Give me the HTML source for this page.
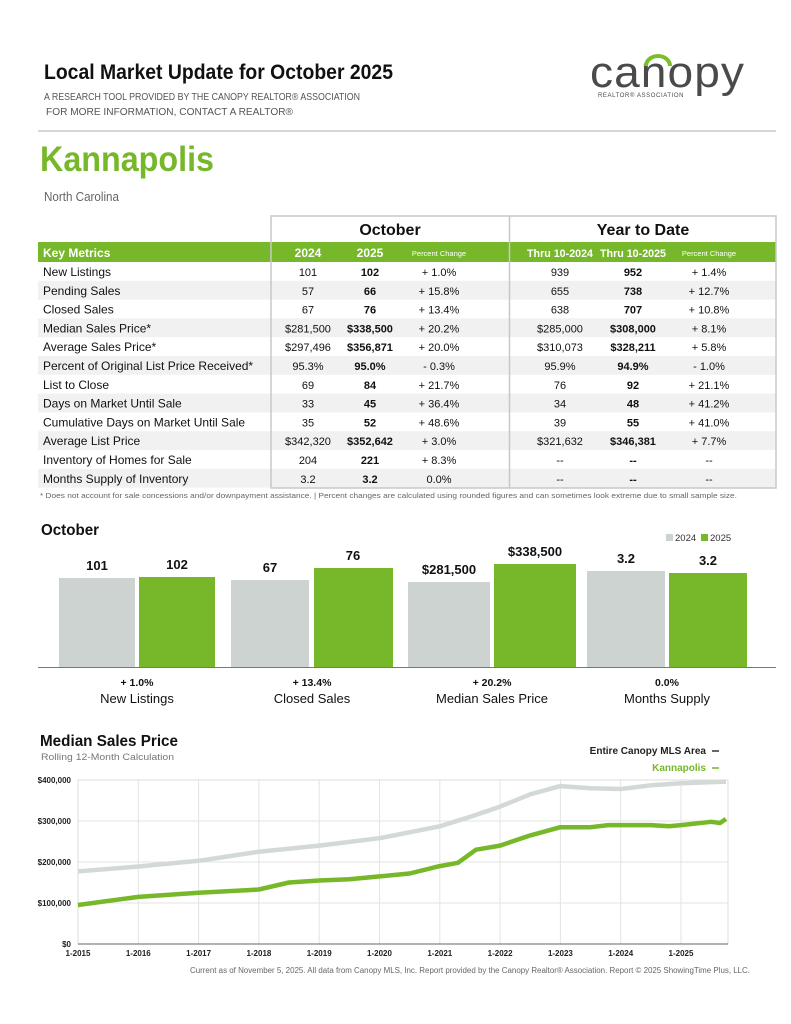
<!DOCTYPE html>
<html><head><meta charset="utf-8"><style>
html,body{margin:0;padding:0;background:#fff;}
svg{display:block;font-family:"Liberation Sans",sans-serif;}
</style></head><body>
<svg width="791" height="1024" viewBox="0 0 791 1024" xmlns="http://www.w3.org/2000/svg">
<!-- Header -->
<text x="44" y="79" font-size="21" font-weight="bold" fill="#111" textLength="349" lengthAdjust="spacingAndGlyphs">Local Market Update for October 2025</text>
<text x="44" y="100" font-size="10.5" fill="#555" textLength="316" lengthAdjust="spacingAndGlyphs">A RESEARCH TOOL PROVIDED BY THE CANOPY REALTOR® ASSOCIATION</text>
<text x="46" y="115" font-size="10.5" fill="#555" textLength="247" lengthAdjust="spacingAndGlyphs">FOR MORE INFORMATION, CONTACT A REALTOR®</text>
<!-- logo -->
<text x="590" y="87" font-size="44" fill="#4a4a4a" letter-spacing="1" textLength="155" lengthAdjust="spacingAndGlyphs">canopy</text>
<path d="M646 66 a12 10 0 0 1 24 0" fill="none" stroke="#7cbd2a" stroke-width="4"/>
<text x="598" y="97" font-size="6" fill="#4a4a4a" letter-spacing="0.6">REALTOR® ASSOCIATION</text>
<line x1="38" y1="131" x2="776" y2="131" stroke="#c8c8c8" stroke-width="1.5"/>
<text x="40" y="171" font-size="35" font-weight="bold" fill="#76b82a" textLength="174" lengthAdjust="spacingAndGlyphs">Kannapolis</text>
<text x="44" y="201" font-size="12.5" fill="#666" textLength="75" lengthAdjust="spacingAndGlyphs">North Carolina</text>

<!-- table -->
<rect x="38" y="242" width="738" height="20" fill="#76b82a"/>
<g fill="#f1f1f1">
<rect x="38" y="280.8" width="738" height="18.8"/>
<rect x="38" y="318.4" width="738" height="18.8"/>
<rect x="38" y="356" width="738" height="18.8"/>
<rect x="38" y="393.6" width="738" height="18.8"/>
<rect x="38" y="431.2" width="738" height="18.8"/>
<rect x="38" y="468.8" width="738" height="18.8"/>
</g>
<rect x="271" y="216" width="505" height="272" fill="none" stroke="#c8c8c8" stroke-width="1.5"/>
<line x1="509.5" y1="216" x2="509.5" y2="488" stroke="#c8c8c8" stroke-width="1.5"/>
<text x="390" y="235" font-size="16" font-weight="bold" text-anchor="middle" fill="#111">October</text>
<text x="643" y="235" font-size="16" font-weight="bold" text-anchor="middle" fill="#111">Year to Date</text>
<g fill="#fff" font-weight="bold" font-size="12" text-anchor="middle">
<text x="43" y="257" text-anchor="start">Key Metrics</text>
<text x="308" y="257">2024</text><text x="370" y="257">2025</text>
<text x="560" y="257" font-size="11" textLength="66" lengthAdjust="spacingAndGlyphs">Thru 10-2024</text><text x="633" y="257" font-size="11" textLength="66" lengthAdjust="spacingAndGlyphs">Thru 10-2025</text>
<text x="439" y="256" font-size="7.5" font-weight="normal">Percent Change</text>
<text x="709" y="256" font-size="7.5" font-weight="normal">Percent Change</text>
</g>
<g font-size="11" fill="#111">
<g transform="translate(0,276)"><text x="43" font-size="12">New Listings</text><text x="308" text-anchor="middle">101</text><text x="370" text-anchor="middle" font-weight="bold">102</text><text x="439" text-anchor="middle">+ 1.0%</text><text x="560" text-anchor="middle">939</text><text x="633" text-anchor="middle" font-weight="bold">952</text><text x="709" text-anchor="middle">+ 1.4%</text></g>
<g transform="translate(0,294.8)"><text x="43" font-size="12">Pending Sales</text><text x="308" text-anchor="middle">57</text><text x="370" text-anchor="middle" font-weight="bold">66</text><text x="439" text-anchor="middle">+ 15.8%</text><text x="560" text-anchor="middle">655</text><text x="633" text-anchor="middle" font-weight="bold">738</text><text x="709" text-anchor="middle">+ 12.7%</text></g>
<g transform="translate(0,313.6)"><text x="43" font-size="12">Closed Sales</text><text x="308" text-anchor="middle">67</text><text x="370" text-anchor="middle" font-weight="bold">76</text><text x="439" text-anchor="middle">+ 13.4%</text><text x="560" text-anchor="middle">638</text><text x="633" text-anchor="middle" font-weight="bold">707</text><text x="709" text-anchor="middle">+ 10.8%</text></g>
<g transform="translate(0,332.4)"><text x="43" font-size="12">Median Sales Price*</text><text x="308" text-anchor="middle">$281,500</text><text x="370" text-anchor="middle" font-weight="bold">$338,500</text><text x="439" text-anchor="middle">+ 20.2%</text><text x="560" text-anchor="middle">$285,000</text><text x="633" text-anchor="middle" font-weight="bold">$308,000</text><text x="709" text-anchor="middle">+ 8.1%</text></g>
<g transform="translate(0,351.2)"><text x="43" font-size="12">Average Sales Price*</text><text x="308" text-anchor="middle">$297,496</text><text x="370" text-anchor="middle" font-weight="bold">$356,871</text><text x="439" text-anchor="middle">+ 20.0%</text><text x="560" text-anchor="middle">$310,073</text><text x="633" text-anchor="middle" font-weight="bold">$328,211</text><text x="709" text-anchor="middle">+ 5.8%</text></g>
<g transform="translate(0,370)"><text x="43" font-size="12">Percent of Original List Price Received*</text><text x="308" text-anchor="middle">95.3%</text><text x="370" text-anchor="middle" font-weight="bold">95.0%</text><text x="439" text-anchor="middle">- 0.3%</text><text x="560" text-anchor="middle">95.9%</text><text x="633" text-anchor="middle" font-weight="bold">94.9%</text><text x="709" text-anchor="middle">- 1.0%</text></g>
<g transform="translate(0,388.8)"><text x="43" font-size="12">List to Close</text><text x="308" text-anchor="middle">69</text><text x="370" text-anchor="middle" font-weight="bold">84</text><text x="439" text-anchor="middle">+ 21.7%</text><text x="560" text-anchor="middle">76</text><text x="633" text-anchor="middle" font-weight="bold">92</text><text x="709" text-anchor="middle">+ 21.1%</text></g>
<g transform="translate(0,407.6)"><text x="43" font-size="12">Days on Market Until Sale</text><text x="308" text-anchor="middle">33</text><text x="370" text-anchor="middle" font-weight="bold">45</text><text x="439" text-anchor="middle">+ 36.4%</text><text x="560" text-anchor="middle">34</text><text x="633" text-anchor="middle" font-weight="bold">48</text><text x="709" text-anchor="middle">+ 41.2%</text></g>
<g transform="translate(0,426.4)"><text x="43" font-size="12">Cumulative Days on Market Until Sale</text><text x="308" text-anchor="middle">35</text><text x="370" text-anchor="middle" font-weight="bold">52</text><text x="439" text-anchor="middle">+ 48.6%</text><text x="560" text-anchor="middle">39</text><text x="633" text-anchor="middle" font-weight="bold">55</text><text x="709" text-anchor="middle">+ 41.0%</text></g>
<g transform="translate(0,445.2)"><text x="43" font-size="12">Average List Price</text><text x="308" text-anchor="middle">$342,320</text><text x="370" text-anchor="middle" font-weight="bold">$352,642</text><text x="439" text-anchor="middle">+ 3.0%</text><text x="560" text-anchor="middle">$321,632</text><text x="633" text-anchor="middle" font-weight="bold">$346,381</text><text x="709" text-anchor="middle">+ 7.7%</text></g>
<g transform="translate(0,464)"><text x="43" font-size="12">Inventory of Homes for Sale</text><text x="308" text-anchor="middle">204</text><text x="370" text-anchor="middle" font-weight="bold">221</text><text x="439" text-anchor="middle">+ 8.3%</text><text x="560" text-anchor="middle">--</text><text x="633" text-anchor="middle" font-weight="bold">--</text><text x="709" text-anchor="middle">--</text></g>
<g transform="translate(0,482.8)"><text x="43" font-size="12">Months Supply of Inventory</text><text x="308" text-anchor="middle">3.2</text><text x="370" text-anchor="middle" font-weight="bold">3.2</text><text x="439" text-anchor="middle">0.0%</text><text x="560" text-anchor="middle">--</text><text x="633" text-anchor="middle" font-weight="bold">--</text><text x="709" text-anchor="middle">--</text></g>
</g>
<text x="40" y="498" font-size="7.5" fill="#666" textLength="697" lengthAdjust="spacingAndGlyphs">* Does not account for sale concessions and/or downpayment assistance.  |  Percent changes are calculated using rounded figures and can sometimes look extreme due to small sample size.</text>

<!-- bar chart -->
<text x="41" y="535" font-size="16" font-weight="bold" fill="#111" textLength="58" lengthAdjust="spacingAndGlyphs">October</text>
<rect x="666" y="534" width="7" height="7" fill="#cdd3d1"/><text x="675" y="541" font-size="9.5" fill="#333">2024</text>
<rect x="701" y="534" width="7" height="7" fill="#76b82a"/><text x="710" y="541" font-size="9.5" fill="#333">2025</text>
<g fill="#cdd3d1">
<rect x="59" y="578" width="76" height="89"/><rect x="231" y="580" width="78" height="87"/><rect x="408" y="582" width="82" height="85"/><rect x="587" y="571" width="78" height="96"/>
</g>
<g fill="#76b82a">
<rect x="139" y="577" width="76" height="90"/><rect x="314" y="568" width="79" height="99"/><rect x="494" y="564" width="82" height="103"/><rect x="669" y="573" width="78" height="94"/>
</g>
<line x1="38" y1="667.5" x2="776" y2="667.5" stroke="#777" stroke-width="1"/>
<g font-size="13" font-weight="bold" fill="#111" text-anchor="middle">
<text x="97" y="570">101</text><text x="177" y="569">102</text>
<text x="270" y="572">67</text><text x="353" y="560">76</text>
<text x="449" y="574">$281,500</text><text x="535" y="556">$338,500</text>
<text x="626" y="563">3.2</text><text x="708" y="565">3.2</text>
</g>
<g font-size="10.5" font-weight="bold" fill="#111" text-anchor="middle">
<text x="137" y="686">+ 1.0%</text><text x="312" y="686">+ 13.4%</text><text x="492" y="686">+ 20.2%</text><text x="667" y="686">0.0%</text>
</g>
<g font-size="13" fill="#111" text-anchor="middle">
<text x="137" y="703">New Listings</text><text x="312" y="703">Closed Sales</text><text x="492" y="703">Median Sales Price</text><text x="667" y="703">Months Supply</text>
</g>

<!-- line chart -->
<text x="40" y="746" font-size="16" font-weight="bold" fill="#111" textLength="138" lengthAdjust="spacingAndGlyphs">Median Sales Price</text>
<text x="41" y="760" font-size="9" fill="#777" textLength="133" lengthAdjust="spacingAndGlyphs">Rolling 12-Month Calculation</text>
<text x="706" y="754" font-size="10" font-weight="bold" fill="#222" text-anchor="end">Entire Canopy MLS Area</text>
<line x1="712" y1="751" x2="719" y2="751" stroke="#333" stroke-width="1.5"/>
<text x="706" y="771" font-size="10" font-weight="bold" fill="#76b82a" text-anchor="end">Kannapolis</text>
<line x1="712" y1="768" x2="719" y2="768" stroke="#76b82a" stroke-width="1.5"/>
<rect x="78" y="780" width="650" height="164" fill="none" stroke="#ddd"/>
<g stroke="#e3e3e3" stroke-width="1">
<line x1="78" y1="821" x2="728" y2="821"/><line x1="78" y1="862" x2="728" y2="862"/><line x1="78" y1="903" x2="728" y2="903"/>
<line x1="138.3" y1="780" x2="138.3" y2="944"/><line x1="198.6" y1="780" x2="198.6" y2="944"/><line x1="258.9" y1="780" x2="258.9" y2="944"/><line x1="319.2" y1="780" x2="319.2" y2="944"/><line x1="379.5" y1="780" x2="379.5" y2="944"/><line x1="439.8" y1="780" x2="439.8" y2="944"/><line x1="500.1" y1="780" x2="500.1" y2="944"/><line x1="560.4" y1="780" x2="560.4" y2="944"/><line x1="620.7" y1="780" x2="620.7" y2="944"/><line x1="681" y1="780" x2="681" y2="944"/>
</g>
<line x1="78" y1="944" x2="728" y2="944" stroke="#666"/>
<g font-size="8" font-weight="bold" fill="#222" text-anchor="end">
<text x="71" y="783">$400,000</text><text x="71" y="824">$300,000</text><text x="71" y="865">$200,000</text><text x="71" y="906">$100,000</text><text x="71" y="947">$0</text>
</g>
<g font-size="8" font-weight="bold" fill="#222" text-anchor="middle">
<text x="78" y="956">1-2015</text><text x="138.3" y="956">1-2016</text><text x="198.6" y="956">1-2017</text><text x="258.9" y="956">1-2018</text><text x="319.2" y="956">1-2019</text><text x="379.5" y="956">1-2020</text><text x="439.8" y="956">1-2021</text><text x="500.1" y="956">1-2022</text><text x="560.4" y="956">1-2023</text><text x="620.7" y="956">1-2024</text><text x="681" y="956">1-2025</text>
</g>
<polyline fill="none" stroke="#d3d9d7" stroke-width="4.5" stroke-linejoin="round" points="78,871.4 138.3,866.5 198.6,860.8 258.9,851.7 319.2,845.6 379.5,838.2 439.8,826.3 470,816.9 500.1,806.6 530.3,794.3 560.4,786.1 590.6,788.2 620.7,789 650.9,785.3 681,783.3 726,781.6"/>
<polyline fill="none" stroke="#76b82a" stroke-width="4.5" stroke-linejoin="round" points="78,905 138.3,896.9 198.6,892.8 258.9,889.5 289,882.5 319.2,880.5 349.3,879.2 379.5,876.4 409.6,873.5 439.8,866.1 457.9,862.8 476,849.7 500.1,845.6 530.3,835.4 560.4,827.2 590.6,827.2 608.6,825.1 650.9,825.1 669,826.3 681,825.1 711.2,821.8 720,823 726,819"/>
<text x="750" y="973" font-size="8" fill="#666" text-anchor="end" textLength="560" lengthAdjust="spacingAndGlyphs">Current as of November 5, 2025. All data from Canopy MLS, Inc. Report provided by the Canopy Realtor® Association. Report © 2025 ShowingTime Plus, LLC.</text>
</svg>
</body></html>
